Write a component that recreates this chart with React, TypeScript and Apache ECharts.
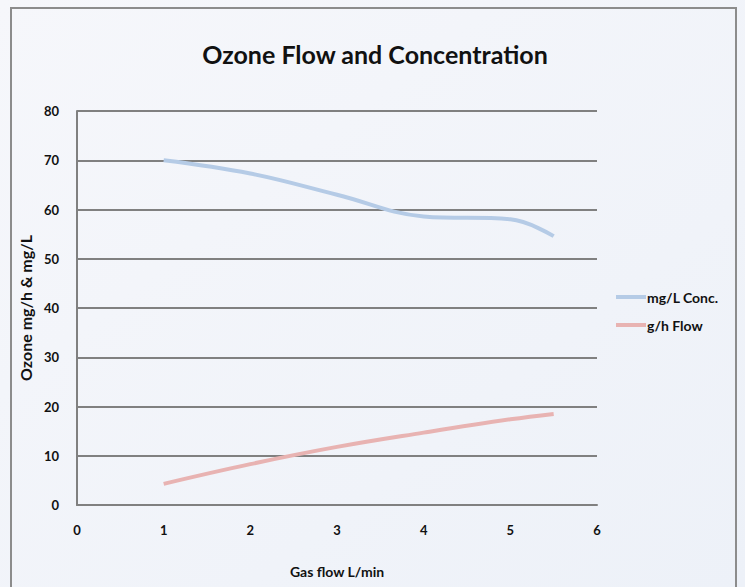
import React, { useEffect, useRef } from "react";
import * as echarts from "echarts";

const xValues = [1, 2, 3, 4, 5, 5.5];
const concValues = [70, 67.3, 63, 58.6, 58, 54.6];
const flowValues = [4.3, 8.3, 11.8, 14.7, 17.4, 18.5];
const seriesNames = ["mg/L Conc.", "g/h Flow"];
const titleText = "Ozone Flow and Concentration";
const xName = "Gas flow L/min";
const yName = "Ozone mg/h & mg/L";

const FONT = "Lato, 'Open Sans', sans-serif";

export default function App() {
  const ref = useRef<HTMLDivElement>(null);
  useEffect(() => {
    document.body.style.margin = "0";
    const chart = echarts.init(ref.current!, null, { renderer: "svg" });
    chart.setOption({
      animation: false,
      backgroundColor: new echarts.graphic.LinearGradient(0, 0, 1, 1, [
        { offset: 0, color: "#f6f7fb" },
        { offset: 1, color: "#edf1f8" },
      ]),
      graphic: [
        {
          type: "rect",
          shape: { x: 11, y: 8, width: 725, height: 600 },
          style: { fill: "none", stroke: "#8c8c8c", lineWidth: 2 },
          silent: true,
        },
      ],
      title: {
        text: titleText,
        left: 370,
        textAlign: "center",
        top: 36,
        textStyle: { fontFamily: FONT, fontSize: 25, fontWeight: "bold", color: "#111" },
      },
      legend: {
        orient: "vertical",
        left: 611,
        top: 285,
        itemWidth: 30,
        itemHeight: 4,
        itemGap: 14,
        icon: "rect",
        textStyle: { fontFamily: FONT, fontSize: 14, fontWeight: "bold", color: "#111", padding: [0, 0, 0, -4] },
        data: seriesNames,
      },
      grid: { left: 77, right: 148, top: 111, bottom: 82 },
      xAxis: {
        type: "value",
        min: 0,
        max: 6,
        interval: 1,
        name: xName,
        nameLocation: "middle",
        nameGap: 59,
        nameTextStyle: { fontFamily: FONT, fontSize: 14, fontWeight: "bold", color: "#111" },
        axisLine: { lineStyle: { color: "#808080", width: 2 } },
        axisTick: { show: false },
        splitLine: { show: false },
        axisLabel: { fontFamily: FONT, fontSize: 13, fontWeight: "bold", color: "#111", margin: 18 },
      },
      yAxis: {
        type: "value",
        min: 0,
        max: 80,
        interval: 10,
        name: yName,
        nameLocation: "middle",
        nameGap: 42,
        nameTextStyle: { fontFamily: FONT, fontSize: 16, fontWeight: "bold", color: "#111" },
        axisLine: { show: true, lineStyle: { color: "#808080", width: 2 } },
        axisTick: { show: false },
        splitLine: { lineStyle: { color: "#808080", width: 2 } },
        axisLabel: { fontFamily: FONT, fontSize: 13, fontWeight: "bold", color: "#111", margin: 18 },
      },
      series: [
        {
          name: seriesNames[0],
          type: "line",
          smooth: 0.4,
          showSymbol: false,
          data: xValues.map((x, i) => [x, concValues[i]]),
          lineStyle: { color: "#b5cbe6", width: 4 },
          itemStyle: { color: "#b5cbe6" },
        },
        {
          name: seriesNames[1],
          type: "line",
          smooth: 0.4,
          showSymbol: false,
          data: xValues.map((x, i) => [x, flowValues[i]]),
          lineStyle: { color: "#e8b3b2", width: 4 },
          itemStyle: { color: "#e8b3b2" },
        },
      ],
    });
    return () => chart.dispose();
  }, []);
  return <div ref={ref} style={{ position: "fixed", left: 0, top: 0, width: 745, height: 587 }} />;
}
